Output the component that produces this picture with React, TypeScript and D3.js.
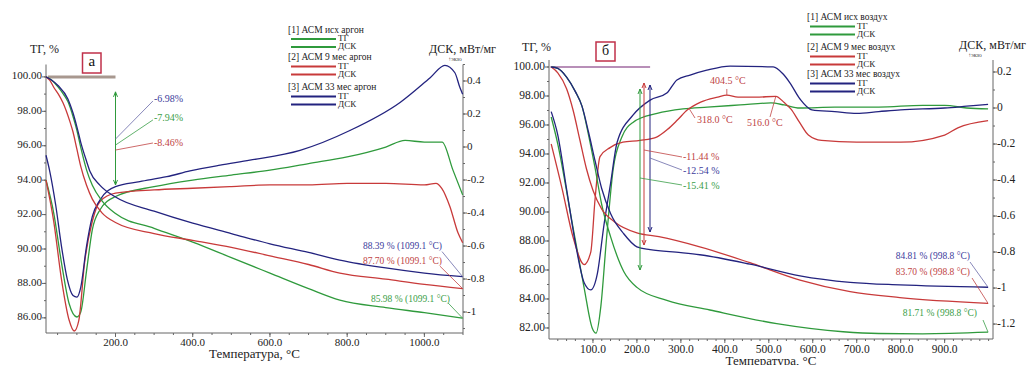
import React from "react";
import * as d3 from "d3";

type P = [number, number];

// ---------- Left panel (argon): [T °C, value] ----------
const leftTgGreen: P[] = [[20,100],[35,99.8],[51,99.42],[65,99.0],[77,98.55],[90,97.7],[100,96.9],[110,95.9],[125,94.6],[140,93.7],[165,92.8],[200,92.06],[300,91.2],[400,90.4],[500,89.5],[600,88.6],[700,87.7],[781,87.03],[900,86.6],[1000,86.3],[1099.1,85.98]];
const leftTgRed: P[] = [[20,100],[30,99.8],[40,99.4],[52,99.0],[64,98.5],[82,97.4],[90,96.8],[100,95.8],[110,94.8],[125,93.7],[140,92.9],[165,92.1],[200,91.54],[300,90.9],[400,90.5],[500,90.1],[600,89.6],[700,89.1],[781,88.6],[900,88.25],[1000,87.95],[1099.1,87.7]];
const leftTgBlue: P[] = [[20,100],[35,99.8],[51,99.5],[77,98.7],[90,97.9],[100,97.1],[110,96.2],[125,95.1],[134,94.5],[160,93.7],[200,93.02],[300,92.2],[400,91.5],[500,90.9],[600,90.3],[700,89.8],[781,89.36],[900,88.9],[1000,88.6],[1099.1,88.39]];
const leftDscGreen: P[] = [[20,-0.2],[40,-0.4],[60,-0.7],[80,-0.95],[100,-1.03],[110,-1.0],[125,-0.75],[140,-0.5],[160,-0.38],[200,-0.3],[300,-0.24],[400,-0.2],[500,-0.17],[600,-0.14],[700,-0.1],[800,-0.06],[900,0.0],[950,0.04],[1000,0.03],[1046,0.03],[1074,-0.14],[1099.1,-0.29]];
const leftDscRed: P[] = [[20,-0.2],[40,-0.45],[60,-0.8],[80,-1.05],[93,-1.115],[105,-1.05],[120,-0.7],[140,-0.45],[160,-0.33],[200,-0.28],[300,-0.26],[400,-0.25],[500,-0.24],[600,-0.23],[700,-0.23],[800,-0.22],[900,-0.22],[1000,-0.23],[1030,-0.22],[1045,-0.25],[1066,-0.36],[1087,-0.52],[1099.1,-0.58]];
const leftDscBlue: P[] = [[20,-0.05],[30,-0.15],[45,-0.35],[60,-0.6],[75,-0.8],[90,-0.9],[100,-0.91],[110,-0.85],[125,-0.6],[140,-0.42],[160,-0.32],[200,-0.24],[263,-0.21],[333,-0.18],[393,-0.145],[471,-0.11],[548,-0.08],[678,-0.02],[807,0.1],[937,0.27],[1015,0.42],[1053,0.495],[1079,0.45],[1092,0.36],[1099.1,0.32]];

// ---------- Right panel (air) ----------
const rightTgGreen: P[] = [[5,100],[20,99.9],[40,99.3],[60,98.3],[75,97.3],[90,95.3],[105,93],[120,90.5],[140,88.3],[170,85.9],[200,84.8],[268,83.9],[366,83.24],[518,82.3],[669,81.74],[750,81.62],[850,81.6],[998.8,81.71]];
const rightTgRed: P[] = [[5,100],[20,99.6],[40,98.5],[55,97],[70,95],[85,93],[100,91.5],[120,90.2],[150,89.3],[200,88.56],[250,88.3],[343,87.6],[457,86.5],[571,85.3],[685,84.5],[798,84.1],[998.8,83.7]];
const rightTgBlue: P[] = [[5,100],[20,99.9],[40,99.3],[60,98.3],[75,97.3],[90,95.5],[105,93.5],[120,91.6],[140,89.9],[170,88.5],[200,87.6],[230,87.4],[300,87.2],[343,87.05],[457,86.4],[571,85.6],[685,85.15],[798,84.97],[998.8,84.81]];
const rightDscGreen: P[] = [[5,-0.05],[20,-0.2],[50,-0.6],[80,-1.0],[98,-1.22],[107,-1.25],[118,-1.1],[130,-0.75],[146,-0.34],[166,-0.16],[191,-0.08],[246,-0.03],[305,-0.005],[360,0.005],[435,0.017],[505,0.028],[535,0.017],[570,0.0],[650,0.005],[750,0.005],[850,0.015],[900,0.015],[950,0.0],[998.8,-0.005]];
const rightDscRed: P[] = [[5,-0.2],[30,-0.45],[55,-0.72],[80,-0.87],[95,-0.8],[105,-0.5],[116,-0.27],[139,-0.22],[168,-0.19],[207,-0.18],[246,-0.16],[269,-0.12],[292,-0.067],[315,-0.01],[345,0.033],[384,0.061],[404.5,0.072],[430,0.06],[470,0.06],[516,0.065],[535,0.03],[550,-0.005],[570,-0.08],[590,-0.15],[620,-0.18],[700,-0.19],[800,-0.19],[900,-0.15],[930,-0.11],[998.8,-0.07]];
const rightDscBlue: P[] = [[5,-0.02],[20,-0.15],[40,-0.45],[60,-0.75],[80,-0.97],[95,-1.01],[110,-0.92],[125,-0.65],[140,-0.42],[155,-0.19],[191,-0.04],[230,0.044],[268,0.083],[291,0.156],[321,0.183],[359,0.21],[412,0.233],[510,0.228],[532,0.19],[548,0.14],[571,0.05],[598,-0.01],[650,-0.02],[700,-0.03],[750,-0.02],[800,-0.01],[900,0.0],[950,0.01],[998.8,0.02]];

// ---------- ticks ----------
const leftXTicks = [200, 400, 600, 800, 1000];
const rightXTicks = [100, 200, 300, 400, 500, 600, 700, 800, 900];
const leftTgTicks = [86, 88, 90, 92, 94, 96, 98, 100];
const rightTgTicks = [82, 84, 86, 88, 90, 92, 94, 96, 98, 100];
const leftDscTicks = [-1, -0.8, -0.6, -0.4, -0.2, 0, 0.2, 0.4];
const rightDscTicks = [-1.2, -1, -0.8, -0.6, -0.4, -0.2, 0, 0.2];

const leftLegend = ["[1] АСМ исх аргон", "[2] АСМ 9 мес аргон", "[3] АСМ 33 мес аргон"];
const rightLegend = ["[1] АСМ исх воздух", "[2] АСМ 9 мес воздух", "[3] АСМ 33 мес воздух"];

const GREEN = "#2f9a3c";
const RED = "#c83a3a";
const BLUE = "#23237f";
const GREEN_T = "#3a9e48";
const RED_T = "#c04444";
const BLUE_T = "#3c3c9c";
const AX = "#666";
const FONT = "'Liberation Serif', 'Times New Roman', serif";

const fmtDsc = (v: number) => {
  const r = Math.round(v * 10) / 10;
  return r === 0 ? "0" : String(r);
};

function range(a: number, b: number, s: number) {
  const out: number[] = [];
  for (let v = a; v <= b + 1e-9; v += s) out.push(Math.round(v * 1000) / 1000);
  return out;
}

export default function App() {
  const xL = d3.scaleLinear().domain([20, 1100]).range([46, 463]);
  const yTgL = d3.scaleLinear().domain([85.12, 100.72]).range([333, 64.5]);
  const yDscL = d3.scaleLinear().domain([-1.127, 0.5]).range([333, 64.5]);
  const xR = d3.scaleLinear().domain([0, 1010]).range([549, 993]);
  const yTgR = d3.scaleLinear().domain([81.24, 100.483]).range([339, 60]);
  const yDscR = d3.scaleLinear().domain([-1.283, 0.2667]).range([339, 60]);

  const mk = (x: d3.ScaleLinear<number, number>, y: d3.ScaleLinear<number, number>) =>
    d3.line<P>().x(d => x(d[0])).y(d => y(d[1])).curve(d3.curveMonotoneX);

  const lTg = mk(xL, yTgL), lDsc = mk(xL, yDscL), rTg = mk(xR, yTgR), rDsc = mk(xR, yDscR);

  const txt = (x: number, y: number, s: string, opts: any = {}) => (
    <text x={x} y={y} fontFamily={FONT} fontSize={opts.size ?? 11} fill={opts.fill ?? "#222"}
      textAnchor={opts.anchor ?? "start"} dominantBaseline="middle">{s}</text>
  );

  const axes = (
    x: d3.ScaleLinear<number, number>, yT: d3.ScaleLinear<number, number>, yD: d3.ScaleLinear<number, number>,
    xt: number[], xMinor: number[], tt: number[], tMinor: number[], dt: number[], dMinor: number[],
    labY: number, titleY: number, fs: number
  ) => {
    const [x0, x1] = x.range();
    const [yb, yt] = yT.range();
    return (
      <g>
        <line x1={x0} x2={x0} y1={yt} y2={yb} stroke={AX} />
        <line x1={x1} x2={x1} y1={yt} y2={yb} stroke={AX} />
        <line x1={x0} x2={x1} y1={yb} y2={yb} stroke={AX} />
        {xMinor.map(v => <line key={"xm" + v} x1={x(v)} x2={x(v)} y1={yb} y2={yb + 2} stroke={AX} />)}
        {xt.map(v => <line key={"xt" + v} x1={x(v)} x2={x(v)} y1={yb} y2={yb + 4} stroke={AX} />)}
        {xt.map(v => <g key={"xl" + v}>{txt(x(v), labY, d3.format(".1f")(v), { anchor: "middle", size: fs })}</g>)}
        {tMinor.map(v => <line key={"tm" + v} x1={x0 - 2} x2={x0} y1={yT(v)} y2={yT(v)} stroke={AX} />)}
        {tt.map(v => <line key={"tt" + v} x1={x0 - 4} x2={x0} y1={yT(v)} y2={yT(v)} stroke={AX} />)}
        {tt.map(v => <g key={"tl" + v}>{txt(x0 - 4, yT(v), d3.format(".2f")(v), { anchor: "end", size: fs })}</g>)}
        {dMinor.map(v => <line key={"dm" + v} x1={x1} x2={x1 + 2} y1={yD(v)} y2={yD(v)} stroke={AX} />)}
        {dt.map(v => <line key={"dt" + v} x1={x1} x2={x1 + 4} y1={yD(v)} y2={yD(v)} stroke={AX} />)}
        {dt.map(v => <g key={"dl" + v}>{txt(x1 + 4, yD(v), fmtDsc(v), { size: fs })}</g>)}
        {txt((x0 + x1) / 2, titleY, "Температура, °C", { anchor: "middle", size: 13 })}
      </g>
    );
  };

  const legend = (names: string[], x: number, ys: number[], gap: number, gap2: number) => {
    const cols = [GREEN, RED, BLUE];
    return names.map((n, i) => (
      <g key={n}>
        {txt(x - 3, ys[i], n, { size: 9.5 })}
        <line x1={x} x2={x + 45} y1={ys[i] + gap} y2={ys[i] + gap} stroke={cols[i]} strokeWidth={2} />
        <line x1={x} x2={x + 45} y1={ys[i] + gap2} y2={ys[i] + gap2} stroke={cols[i]} strokeWidth={2} />
        {txt(x + 47, ys[i] + gap, "ТГ", { size: 9 })}
        {txt(x + 47, ys[i] + gap2, "ДСК", { size: 9 })}
      </g>
    ));
  };

  const arrowHead = (x: number, y: number, dir: number, c: string) => (
    <path d={`M${x - 2},${y + dir * 5} L${x},${y} L${x + 2},${y + dir * 5}`} fill="none" stroke={c} strokeWidth={1} />
  );

  const leftEnd = xL(1099.1);
  const rightEnd = xR(998.8);

  return (
    <svg width={1027} height={365} style={{ position: "fixed", left: 0, top: 0, background: "#fff" }}>
      <rect width={1027} height={365} fill="#fff" />
      {/* ---------------- LEFT ---------------- */}
      {axes(xL, yTgL, yDscL, leftXTicks, range(50, 1100, 50), leftTgTicks, range(86, 100, 1), leftDscTicks, range(-1.1, 0.5, 0.1), 343, 355, 11)}
      {txt(30, 50, "ТГ, %", { size: 12 })}
      {txt(496, 50, "ДСК, мВт/мг", { size: 12, anchor: "end" })}
      {txt(455, 60, "↑экзо", { size: 6, anchor: "middle", fill: "#444" })}
      <line x1={xL(25)} x2={xL(200)} y1={yTgL(100)} y2={yTgL(100)} stroke="#a8988f" strokeWidth={3} />
      <rect x={82.5} y={53} width={18.5} height={20} fill="#fff" stroke="#c0304a" strokeWidth={1.5} />
      {txt(91.75, 62.5, "а", { size: 15, anchor: "middle", fill: "#111" })}
      <line x1={xL(200)} x2={xL(200)} y1={yTgL(99.13)} y2={yTgL(93.72)} stroke={GREEN} strokeWidth={1} />
      {arrowHead(xL(200), yTgL(99.13), 1, GREEN)}
      {arrowHead(xL(200), yTgL(93.72), -1, GREEN)}
      <line x1={xL(200)} y1={yTgL(96.39)} x2={xL(297)} y2={yTgL(98.6)} stroke="#6a6aa8" strokeWidth={0.8} />
      <line x1={xL(200)} y1={yTgL(96.04)} x2={xL(297)} y2={yTgL(97.5)} stroke={GREEN_T} strokeWidth={0.8} />
      <line x1={xL(200)} y1={yTgL(95.75)} x2={xL(297)} y2={yTgL(96.16)} stroke={RED_T} strokeWidth={0.8} />
      {txt(xL(297) + 1, yTgL(98.66), "-6.98%", { size: 10, fill: BLUE_T })}
      {txt(xL(297) + 1, yTgL(97.55), "-7.94%", { size: 10, fill: GREEN_T })}
      {txt(xL(297) + 1, yTgL(96.1), "-8.46%", { size: 10, fill: RED_T })}

      <path d={lDsc(leftDscGreen)!} fill="none" stroke={GREEN} strokeWidth={1.3} />
      <path d={lDsc(leftDscRed)!} fill="none" stroke={RED} strokeWidth={1.3} />
      <path d={lDsc(leftDscBlue)!} fill="none" stroke={BLUE} strokeWidth={1.3} />
      <path d={lTg(leftTgGreen)!} fill="none" stroke={GREEN} strokeWidth={1.3} />
      <path d={lTg(leftTgRed)!} fill="none" stroke={RED} strokeWidth={1.3} />
      <path d={lTg(leftTgBlue)!} fill="none" stroke={BLUE} strokeWidth={1.3} />

      <line x1={442} y1={yTgL(89.85)} x2={leftEnd} y2={yTgL(88.39)} stroke="#6a6aa8" strokeWidth={0.8} />
      <line x1={440} y1={yTgL(89.0)} x2={leftEnd} y2={yTgL(87.7)} stroke={RED_T} strokeWidth={0.8} />
      <line x1={448} y1={yTgL(86.87)} x2={leftEnd} y2={yTgL(85.98)} stroke={GREEN_T} strokeWidth={0.8} />
      {txt(442, yTgL(90.15), "88.39 % (1099.1 °C)", { size: 9.5, fill: BLUE_T, anchor: "end" })}
      {txt(442, yTgL(89.28), "87.70 % (1099.1 °C)", { size: 9.5, fill: RED_T, anchor: "end" })}
      {txt(450, yTgL(86.96) - 2, "85.98 % (1099.1 °C)", { size: 9.5, fill: GREEN_T, anchor: "end" })}
      {legend(leftLegend, 291, [30.5, 58, 88], 8.5, 16.5)}

      {/* ---------------- RIGHT ---------------- */}
      {axes(xR, yTgR, yDscR, rightXTicks, range(20, 1000, 20), rightTgTicks, range(82, 100, 1), rightDscTicks, range(-1.2, 0.2, 0.1), 350, 362, 11.5)}
      {txt(522, 48, "ТГ, %", { size: 12 })}
      {txt(1026, 46, "ДСК, мВт/мг", { size: 12, anchor: "end" })}
      {txt(975, 56, "↑экзо", { size: 6, anchor: "middle", fill: "#444" })}
      <line x1={xR(3)} x2={xR(230)} y1={yTgR(100)} y2={yTgR(100)} stroke="#a06aa0" strokeWidth={1.5} />
      <rect x={596} y={42} width={19} height={19} fill="#fff" stroke="#c0304a" strokeWidth={1.5} />
      {txt(605.5, 51.5, "б", { size: 14, anchor: "middle", fill: "#111" })}

      <path d={rDsc(rightDscGreen)!} fill="none" stroke={GREEN} strokeWidth={1.3} />
      <path d={rDsc(rightDscRed)!} fill="none" stroke={RED} strokeWidth={1.3} />
      <path d={rDsc(rightDscBlue)!} fill="none" stroke={BLUE} strokeWidth={1.3} />
      <path d={rTg(rightTgGreen)!} fill="none" stroke={GREEN} strokeWidth={1.3} />
      <path d={rTg(rightTgRed)!} fill="none" stroke={RED} strokeWidth={1.3} />
      <path d={rTg(rightTgBlue)!} fill="none" stroke={BLUE} strokeWidth={1.3} />

      <line x1={640} x2={640} y1={89} y2={270} stroke={GREEN} strokeWidth={1} />
      {arrowHead(640, 89, 1, GREEN)}{arrowHead(640, 270, -1, GREEN)}
      <line x1={644} x2={644} y1={83} y2={245} stroke={RED} strokeWidth={1} />
      {arrowHead(644, 83, 1, RED)}{arrowHead(644, 245, -1, RED)}
      <line x1={650} x2={650} y1={85} y2={232} stroke={BLUE} strokeWidth={1} />
      {arrowHead(650, 85, 1, BLUE)}{arrowHead(650, 232, -1, BLUE)}
      <line x1={644} y1={150} x2={682} y2={157} stroke={RED_T} strokeWidth={0.8} />
      <line x1={650} y1={158} x2={682} y2={170} stroke="#6a6aa8" strokeWidth={0.8} />
      <line x1={640} y1={178} x2={682} y2={185} stroke={GREEN_T} strokeWidth={0.8} />
      {txt(683, 158, "-11.44 %", { size: 10, fill: RED_T })}
      {txt(683, 172, "-12.54 %", { size: 10, fill: BLUE_T })}
      {txt(683, 187, "-15.41 %", { size: 10, fill: GREEN_T })}

      <line x1={xR(404.5)} y1={89} x2={xR(404.5)} y2={yDscR(0.072)} stroke={RED_T} strokeWidth={0.8} />
      {txt(710, 82, "404.5 °C", { size: 10, fill: RED_T })}
      <line x1={695} y1={118} x2={xR(318)} y2={yDscR(0.0)} stroke={RED_T} strokeWidth={0.8} />
      {txt(697, 121, "318.0 °C", { size: 10, fill: RED_T })}
      <line x1={770} y1={117} x2={xR(516)} y2={yDscR(0.065)} stroke={RED_T} strokeWidth={0.8} />
      {txt(747, 124, "516.0 °C", { size: 10, fill: RED_T })}

      <line x1={970} y1={262} x2={rightEnd} y2={yTgR(84.81)} stroke="#6a6aa8" strokeWidth={0.8} />
      <line x1={972} y1={278} x2={rightEnd} y2={yTgR(83.7)} stroke={RED_T} strokeWidth={0.8} />
      <line x1={983} y1={320} x2={rightEnd} y2={yTgR(81.71)} stroke={GREEN_T} strokeWidth={0.8} />
      {txt(970, 257, "84.81 % (998.8 °C)", { size: 9.5, fill: BLUE_T, anchor: "end" })}
      {txt(970, 273, "83.70 % (998.8 °C)", { size: 9.5, fill: RED_T, anchor: "end" })}
      {txt(977, 314, "81.71 % (998.8 °C)", { size: 9.5, fill: GREEN_T, anchor: "end" })}
      {legend(rightLegend, 810, [18, 48, 75], 8.5, 16.5)}
    </svg>
  );
}
